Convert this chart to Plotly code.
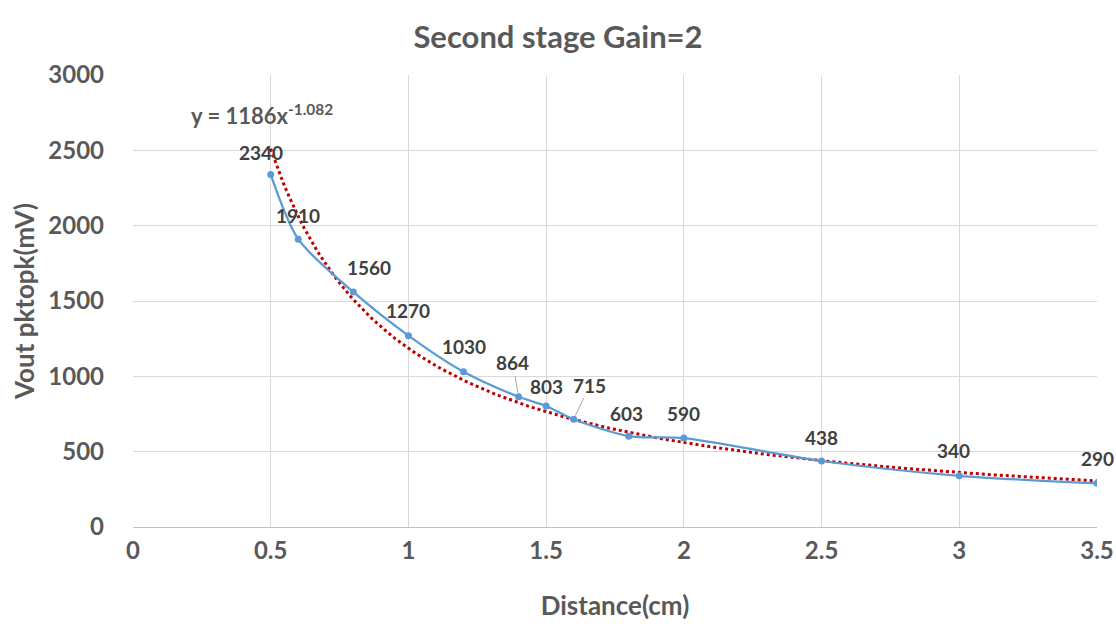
import numpy as np
import plotly.graph_objects as go

distance_cm = [0.5, 0.6, 0.8, 1.0, 1.2, 1.4, 1.5, 1.6, 1.8, 2.0, 2.5, 3.0, 3.5]
vout_mv = [2340, 1910, 1560, 1270, 1030, 864, 803, 715, 603, 590, 438, 340, 290]
label_text = ["2340", "1910", "1560", "1270", "1030", "864", "803", "715", "603", "590", "438", "340", "290"]
x_ticks = [0, 0.5, 1, 1.5, 2, 2.5, 3, 3.5]
y_ticks = [0, 500, 1000, 1500, 2000, 2500, 3000]

# label offsets in pixels (xshift, yshift) ; arrow labels use ax/ay
label_shift = [(-10, 22), (0, 24), (16, 24), (0, 25), (0, 25), None, (0, 20), None, (-2, 23), (0, 25), (0, 24), (-6, 25), (0, 25)]
arrow_off = {5: (-6, -34), 7: (16, -34)}

# power trendline fit from the data (log-log least squares)
b, loga = np.polyfit(np.log(distance_cm), np.log(vout_mv), 1)
a = np.exp(loga)
trend_x = np.linspace(min(distance_cm), max(distance_cm), 200)
trend_y = a * trend_x ** b

FONT = "Lato"
GRAY = "#595959"
DARK = "#404040"

fig = go.Figure()
fig.add_trace(go.Scatter(x=trend_x, y=trend_y, mode="lines",
                         line=dict(color="#C00000", width=3, dash="dot"),
                         hoverinfo="skip", showlegend=False))
fig.add_trace(go.Scatter(x=distance_cm, y=vout_mv, mode="lines+markers",
                         line=dict(color="#5B9BD5", width=2.25, shape="spline", smoothing=0.8),
                         marker=dict(color="#5B9BD5", size=7),
                         showlegend=False))

for i, (xv, yv, t) in enumerate(zip(distance_cm, vout_mv, label_text)):
    if i in arrow_off:
        ax, ay = arrow_off[i]
        fig.add_annotation(x=xv, y=yv, text="<b>%s</b>" % t, showarrow=True, arrowhead=0,
                           arrowwidth=1, arrowcolor="#A6A6A6", ax=ax, ay=ay,
                           standoff=4, font=dict(family=FONT, size=19, color=DARK))
    else:
        xs, ys = label_shift[i]
        fig.add_annotation(x=xv, y=yv, text="<b>%s</b>" % t, showarrow=False,
                           xshift=xs, yshift=ys, font=dict(family=FONT, size=19, color=DARK))

fig.add_annotation(x=0.47, y=2740, xref="x", yref="y",
                   text="<b>y = %dx<sup>%.3f</sup></b>" % (round(a), b),
                   showarrow=False, font=dict(family=FONT, size=22, color=GRAY))

fig.update_layout(
    width=1116, height=624,
    margin=dict(l=133, r=19, t=75, b=97),
    paper_bgcolor="white", plot_bgcolor="white",
    title=dict(text="<b>Second stage Gain=2</b>", x=0.5, xanchor="center",
               y=0.94, yanchor="middle",
               font=dict(family=FONT, size=31, color=GRAY)),
    xaxis=dict(range=[0, 3.5], tickvals=x_ticks, ticktext=[("%g" % v) for v in x_ticks],
               automargin=False,
               showgrid=True, gridcolor="#D9D9D9", gridwidth=1,
               showline=True, linecolor="#BFBFBF", linewidth=1, zeroline=False,
               ticks="", ticklabelstandoff=2,
               tickfont=dict(family=FONT, size=24, color=GRAY, weight="bold"),
               title=dict(text="<b>Distance(cm)</b>", standoff=34,
                          font=dict(family=FONT, size=26, color=GRAY))),
    yaxis=dict(range=[0, 3000], tickvals=y_ticks, automargin=False,
               showgrid=True, gridcolor="#D9D9D9", gridwidth=1,
               showline=False, zeroline=False, ticks="", ticklabelstandoff=28,
               tickfont=dict(family=FONT, size=24, color=GRAY, weight="bold"),
               title=dict(text="<b>Vout pktopk(mV)</b>", standoff=6,
                          font=dict(family=FONT, size=26, color=GRAY))),
)

fig.write_html("out.html")
